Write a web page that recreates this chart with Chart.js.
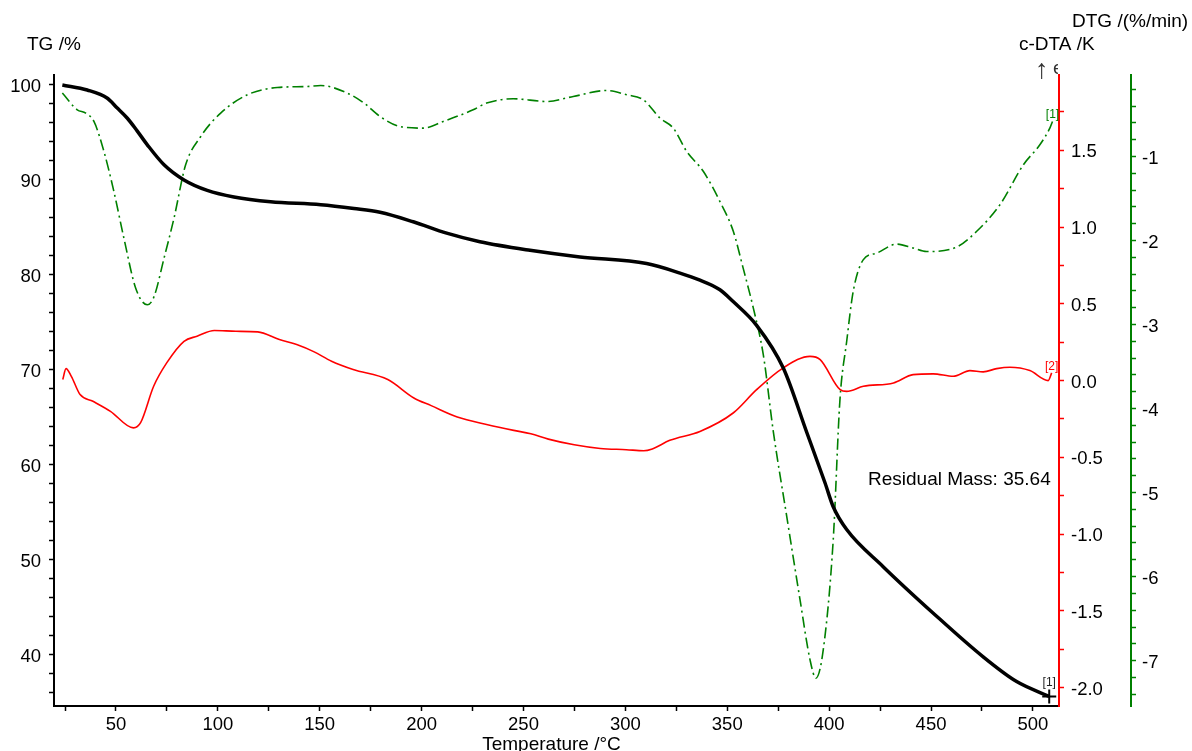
<!DOCTYPE html>
<html><head><meta charset="utf-8">
<script src="https://cdn.jsdelivr.net/npm/chart.js@4.4.1/dist/chart.umd.min.js"></script>
<style>html,body{margin:0;padding:0;background:#fff;overflow:hidden}canvas{display:block}</style>
</head><body>
<canvas id="c" width="1192" height="751"></canvas>
<script>
// ---- data ----
const tgTemp = [23.7, 35.9, 45.8, 50.5, 55.6, 60.3, 65.4, 73.6, 83.4, 94.8, 107.9, 125.9, 150.5, 166.8, 179.6, 195.9, 212.3, 228.6, 253.2, 277.7, 310.4, 326.8, 336.6, 346.4, 352.9, 364.4, 377.5, 388.9, 398.0, 402.0, 408.6, 426.5, 451.1, 475.6, 492.0, 508.0];
const tgMass = [100.0, 99.47, 98.6, 97.6, 96.5, 95.2, 93.7, 91.6, 90.0, 88.9, 88.2, 87.7, 87.4, 87.0, 86.6, 85.6, 84.4, 83.5, 82.6, 81.9, 81.2, 80.2, 79.45, 78.45, 77.2, 74.7, 70.2, 63.5, 58.1, 55.6, 53.2, 49.3, 44.4, 39.8, 37.2, 35.64];

const dtaTemp = [23.9, 25.5, 28.1, 32.4, 38.7, 47.3, 58.6, 62.1, 68.5, 74.9, 83.4, 89.8, 98.3, 108.9, 119.6, 130.2, 138.7, 147.3, 155.8, 166.4, 183.4, 196.2, 204.7, 217.5, 232.4, 245.2, 253.6, 262.2, 274.9, 287.7, 300.5, 309.0, 313.2, 321.8, 336.6, 352.9, 364.4, 377.5, 390.6, 395.6, 405.4, 408.6, 416.8, 431.6, 441.2, 451.0, 460.9, 469.1, 475.6, 482.2, 488.7, 498.5, 507.5, 509.2];
const dtaVal = [0.007, 0.078, 0.028, -0.091, -0.135, -0.2, -0.308, -0.274, -0.037, 0.115, 0.256, 0.289, 0.326, 0.321, 0.317, 0.267, 0.235, 0.187, 0.126, 0.072, 0.007, -0.113, -0.163, -0.237, -0.287, -0.324, -0.346, -0.381, -0.418, -0.442, -0.45, -0.457, -0.445, -0.389, -0.331, -0.211, -0.059, 0.083, 0.158, 0.137, -0.059, -0.07, -0.037, -0.015, 0.039, 0.044, 0.028, 0.065, 0.057, 0.078, 0.087, 0.065, 0.0, 0.05];

const dtgTemp = [23.7, 31.0, 35.2, 39.2, 44.1, 49.0, 53.9, 59.7, 65.4, 68.7, 73.6, 78.5, 84.2, 91.6, 101.4, 114.5, 129.2, 143.9, 150.5, 163.5, 171.7, 179.6, 189.4, 200.8, 210.6, 225.3, 231.9, 245.0, 261.4, 274.4, 290.8, 300.6, 308.8, 317.0, 323.5, 330.1, 338.3, 346.4, 353.0, 357.8, 362.8, 367.7, 372.6, 379.2, 385.7, 390.6, 393.5, 397.1, 402.0, 405.3, 408.6, 411.8, 416.7, 423.3, 433.1, 441.3, 447.8, 462.5, 472.3, 483.8, 495.3, 503.4, 508.3, 509.6];
const dtgVal = [-0.245, -0.444, -0.483, -0.583, -0.94, -1.417, -1.971, -2.567, -2.765, -2.667, -2.21, -1.733, -1.099, -0.762, -0.483, -0.265, -0.179, -0.167, -0.155, -0.245, -0.364, -0.524, -0.643, -0.662, -0.583, -0.444, -0.364, -0.313, -0.345, -0.286, -0.214, -0.265, -0.325, -0.543, -0.662, -0.94, -1.179, -1.536, -1.893, -2.329, -2.805, -3.361, -4.274, -5.286, -6.274, -6.988, -7.21, -6.873, -5.563, -3.896, -3.202, -2.607, -2.23, -2.15, -2.043, -2.09, -2.131, -2.079, -1.893, -1.575, -1.099, -0.861, -0.662, -0.583];

// axis ranges and tick labels
const xRange = [19.6, 512.8];
const tgRange = [34.63, 101.05];
const dtaRange = [-2.119, 1.99];
const dtgRange = [-7.54, -0.03];
const xTickLabels = [50, 100, 150, 200, 250, 300, 350, 400, 450, 500];
const tgTickLabels = [40, 50, 60, 70, 80, 90, 100];
const dtaTickLabels = [-2.0, -1.5, -1.0, -0.5, 0.0, 0.5, 1.0, 1.5];
const dtgTickLabels = [-7, -6, -5, -4, -3, -2, -1];
const residualText = 'Residual Mass: 35.64 %';

// ---- chart ----
const FONT = "'Liberation Sans', Arial, sans-serif";
const RED = '#ff0000', GREEN = '#008000', BLACK = '#000000';
Chart.defaults.font.family = FONT;

const pts = (xs, ys) => xs.map((x, i) => ({x, y: ys[i]}));
const labelFrom = (list, digits) => (v) => {
  const m = list.find(t => Math.abs(t - v) < 1e-6);
  return m === undefined ? '' : (digits ? m.toFixed(digits) : String(m));
};
const tickFont = {family: FONT, size: 18.5};

function axis(pos, range, step, labels, digits, color, width, pad) {
  return {
    type: 'linear', position: pos, min: range[0], max: range[1],
    ticks: {stepSize: step, includeBounds: false, autoSkip: false, maxTicksLimit: 1000,
            maxRotation: 0, padding: pad, color: '#000', font: tickFont,
            labelOffset: pos === 'bottom' ? 0 : 2,
            callback: labelFrom(labels, digits)},
    grid: {drawOnChartArea: false, drawTicks: true, tickLength: 5, tickColor: color, tickWidth: 1.5},
    border: {display: true, color: color, width: 2},
    afterFit: (s) => { if (pos === 'bottom') s.height = width; else s.width = width; }
  };
}

const textPlugin = {
  id: 'texts',
  afterDraw(chart) {
    const ctx = chart.ctx, a = chart.chartArea;
    ctx.save();
    ctx.fillStyle = '#000';
    ctx.font = '19px ' + FONT;
    ctx.textAlign = 'left';
    ctx.textBaseline = 'alphabetic';
    ctx.fillText('TG /%', a.left - 27, 50);
    ctx.fillText('c-DTA /K', a.right - 40, 50);
    ctx.fillText('DTG /(%/min)', a.right + 13, 27);
    ctx.textAlign = 'center';
    ctx.fillText('Temperature /°C', (a.left + a.right) / 2 - 5, 750);
    // texts clipped at the plot edge
    ctx.save();
    ctx.beginPath(); ctx.rect(0, 0, a.right - 4, a.bottom); ctx.clip();
    ctx.textAlign = 'left';
    ctx.fillText(residualText, a.right - 191, 485);
    ctx.restore();
    ctx.save();
    ctx.beginPath(); ctx.rect(0, 0, a.right - 1, a.bottom); ctx.clip();
    ctx.textAlign = 'left';
    ctx.fillStyle = '#333';
    ctx.font = '27px ' + FONT;
    ctx.fillText('↑', a.right - 24, 78);
    ctx.font = '19px ' + FONT;
    ctx.fillText('exo', a.right - 6, 74);
    ctx.restore();
    // curve end labels
    ctx.font = '12px ' + FONT;
    ctx.textAlign = 'center';
    const tag = (dsIndex, text, color, dy) => {
      const meta = chart.getDatasetMeta(dsIndex);
      const p = meta.data[meta.data.length - 1];
      ctx.fillStyle = color;
      ctx.fillText(text, p.x, p.y + dy);
    };
    tag(0, '[1]', '#222', -10);
    tag(1, '[2]', RED, -3);
    tag(2, '[1]', GREEN, -3);
    ctx.restore();
  }
};

new Chart(document.getElementById('c'), {
  type: 'line',
  data: {
    datasets: [
      {label: 'TG', data: pts(tgTemp, tgMass), yAxisID: 'y', borderColor: BLACK, borderWidth: 3.5,
       cubicInterpolationMode: 'monotone', pointStyle: 'cross', pointBorderColor: BLACK, pointBorderWidth: 2,
       pointRadius: (c) => c.dataIndex === tgTemp.length - 1 ? 7 : 0, pointHoverRadius: 0},
      {label: 'c-DTA', data: pts(dtaTemp, dtaVal), yAxisID: 'y2', borderColor: RED, borderWidth: 1.6,
       cubicInterpolationMode: 'monotone', pointRadius: 0},
      {label: 'DTG', data: pts(dtgTemp, dtgVal), yAxisID: 'y3', borderColor: GREEN, borderWidth: 1.6,
       borderDash: [11, 4, 2, 4], cubicInterpolationMode: 'monotone', pointRadius: 0}
    ]
  },
  options: {
    responsive: false, animation: false, devicePixelRatio: 1,
    layout: {padding: {top: 75, left: 0, right: 0, bottom: 0}},
    plugins: {legend: {display: false}, tooltip: {enabled: false}, title: {display: false}},
    scales: {
      x: axis('bottom', xRange, 25, xTickLabels, 0, BLACK, 45, 3),
      y: axis('left', tgRange, 2, tgTickLabels, 0, BLACK, 54, 8),
      y2: axis('right', dtaRange, 0.25, dtaTickLabels, 1, RED, 72, 7),
      y3: axis('right', dtgRange, 0.2, dtgTickLabels, 0, GREEN, 61, 6)
    }
  },
  plugins: [textPlugin]
});
</script>
</body></html>
